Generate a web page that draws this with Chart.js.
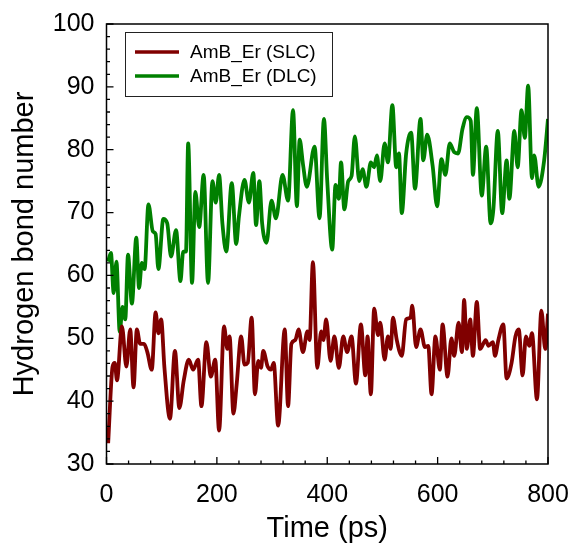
<!DOCTYPE html>
<html>
<head>
<meta charset="utf-8">
<script src="https://cdn.jsdelivr.net/npm/chart.js@4/dist/chart.umd.min.js"></script>
<style>
  html, body { margin: 0; padding: 0; background: #fff; }
  #wrap { width: 569px; height: 548px; }
</style>
</head>
<body>
<div id="wrap"><canvas id="hbondChart" width="569" height="548"></canvas></div>
<script>
// hydrogen bond count over simulation time, two membrane systems
const slcTime = [3, 11, 15, 19, 28, 36, 43, 49, 55, 61, 68, 74, 82, 89, 94, 99, 105, 115, 124, 132,
    140, 149, 157, 166, 172, 181, 189, 197, 204, 213, 219, 223, 230, 236, 244, 250, 256, 263, 269, 275,
    280, 284, 292, 298, 303, 311, 323, 329, 335, 342, 348, 356, 364, 368, 374, 382, 389, 393, 398, 406,
    413, 421, 429, 436, 444, 452, 461, 469, 473, 479, 485, 492, 496, 504, 510, 515, 519, 526, 535, 543,
    551, 554, 561, 569, 577, 583, 589, 596, 604, 609, 618, 625, 630, 638, 644, 648, 653, 659, 664, 671,
    677, 687, 692, 700, 704, 710, 719, 725, 734, 741, 747, 754, 760, 766, 771, 780, 788, 795, 800];
const slcHbonds = [33.3, 45.5, 46.1, 43.3, 51.9, 45.5, 51.4, 42.2, 51.4, 49.1, 49.1, 47.8, 45, 54.1, 50.8, 53, 45.3, 37.2, 48, 38.9,
    43.3, 46.6, 45, 46.6, 39.2, 49.4, 43.9, 46.6, 35.3, 51.9, 48.3, 50.3, 38, 42.8, 50.3, 45.8, 46.1, 53.3, 41.1, 46.4,
    45.3, 48, 45.5, 45, 46.1, 36.1, 51.4, 39.2, 49.1, 49.7, 51.4, 47.8, 51.1, 49.7, 62.1, 45.3, 51.1, 49.7, 53, 46.4,
    50.3, 45.3, 50.3, 47.8, 50.3, 42.8, 52.2, 44.1, 50.3, 41.1, 54.7, 50.5, 52.5, 46.6, 50.3, 48.3, 53.3, 49.7, 47.2, 53,
    53.3, 55.2, 48.6, 51.4, 48.6, 48.8, 41.1, 50.3, 45, 52.2, 43.9, 50, 47.2, 52.5, 47.8, 56.1, 48.3, 53, 47.2, 55.8,
    48.3, 49.7, 48.8, 49.4, 47.2, 49.7, 52.2, 43.6, 46.1, 50.3, 51.4, 44.1, 50.3, 48.8, 50.8, 40.3, 54.4, 48.3, 53.9];

const dlcTime = [3, 8, 13, 18, 24, 29, 34, 39, 46, 54, 59, 64, 69, 76, 84, 89, 94, 103, 110, 117,
    126, 134, 139, 144, 148, 155, 161, 168, 176, 184, 192, 198, 204, 210, 217, 227, 235, 240, 250, 258,
    266, 271, 277, 282, 290, 299, 307, 319, 329, 338, 345, 350, 356, 363, 377, 386, 394, 400, 409, 415,
    421, 425, 431, 438, 444, 450, 458, 464, 471, 479, 485, 490, 496, 504, 510, 518, 525, 530, 535, 543,
    552, 559, 569, 574, 581, 591, 599, 607, 614, 622, 630, 637, 645, 653, 660, 664, 671, 680, 688, 696,
    701, 709, 717, 725, 730, 739, 745, 752, 758, 764, 771, 775, 783, 793, 800];
const dlcHbonds = [62.2, 63.6, 57.2, 62.2, 51, 55, 53, 63.3, 55.5, 66, 58, 62, 61, 71.3, 67, 66.6, 61, 69, 68.3, 63,
    67.2, 59.1, 63.8, 63.8, 81, 58.8, 73.3, 67.7, 76, 58.8, 75, 71.6, 76, 68.3, 63.8, 74.7, 65, 69.4, 75.2, 71.6,
    76.3, 68, 75, 68.3, 65.2, 71.9, 69.1, 76, 71.9, 86.3, 71, 81.6, 77.7, 74.1, 80.5, 69.1, 84.9, 75, 64.1, 74.4,
    72.2, 78, 70.5, 75, 75.8, 82.1, 75, 76.9, 74.1, 78, 77.2, 79.1, 75, 81, 78, 87.1, 77.2, 79.4, 69.9, 79.4,
    82.7, 73.8, 84.9, 78.3, 82.4, 77.4, 71, 78.5, 76, 81, 79.6, 79.4, 83.3, 85.2, 84.6, 76, 86.6, 72.7, 80.5, 68.3,
    70.5, 83, 69.9, 78.3, 72.2, 83, 77.2, 86.3, 81.9, 90.2, 75.5, 79.1, 74.1, 78.3, 84.9];

const seriesNames = ['AmB_Er (SLC)', 'AmB_Er (DLC)'];
const xTicks = [0, 200, 400, 600, 800];
const yTicks = [30, 40, 50, 60, 70, 80, 90, 100];

const FONT = 'Liberation Sans, Arial, Helvetica, sans-serif';

function pairUp(xs, ys) {
    return xs.map((x, i) => ({ x: x, y: ys[i] }));
}

// box frame, inward tick marks and the framed legend in the upper left
const framePlugin = {
    id: 'frame',
    afterDatasetsDraw(chart) {
        const { ctx, chartArea: a, scales } = chart;
        const xs = scales.x, ys = scales.y;
        ctx.save();
        ctx.strokeStyle = '#000';
        ctx.lineWidth = 1.5;
        ctx.strokeRect(a.left, a.top, a.right - a.left, a.bottom - a.top);

        ctx.lineWidth = 1.3;
        ctx.beginPath();
        for (let v = 0; v <= 800; v += 40) {
            const px = xs.getPixelForValue(v);
            const len = v % 200 === 0 ? 7 : 3.5;
            ctx.moveTo(px, a.bottom);
            ctx.lineTo(px, a.bottom - len);
        }
        for (let v = 30; v <= 100; v += 2) {
            const py = ys.getPixelForValue(v);
            const len = v % 10 === 0 ? 7 : 3.5;
            ctx.moveTo(a.left, py);
            ctx.lineTo(a.left + len, py);
        }
        ctx.stroke();

        // legend
        const bx = 125, by = 32, bw = 207, bh = 64;
        ctx.fillStyle = '#fff';
        ctx.fillRect(bx, by, bw, bh);
        ctx.lineWidth = 1;
        ctx.strokeStyle = '#222';
        ctx.strokeRect(bx + 0.5, by + 0.5, bw, bh);
        chart.data.datasets.forEach((ds, i) => {
            const ry = by + 20 + i * 24;
            ctx.strokeStyle = ds.borderColor;
            ctx.lineWidth = 3.5;
            ctx.beginPath();
            ctx.moveTo(bx + 10, ry);
            ctx.lineTo(bx + 54, ry);
            ctx.stroke();
            ctx.fillStyle = '#000';
            ctx.font = '19px ' + FONT;
            ctx.textBaseline = 'middle';
            ctx.fillText(ds.label, bx + 65, ry + 1);
        });
        ctx.restore();
    }
};

const ctx = document.getElementById('hbondChart').getContext('2d');
new Chart(ctx, {
    type: 'line',
    data: {
        datasets: [{
            label: seriesNames[0],
            data: pairUp(slcTime, slcHbonds),
            borderColor: '#800000',
            borderWidth: 3.8,
            pointRadius: 0,
            cubicInterpolationMode: 'monotone',
            fill: false
        }, {
            label: seriesNames[1],
            data: pairUp(dlcTime, dlcHbonds),
            borderColor: '#008000',
            borderWidth: 3.8,
            pointRadius: 0,
            cubicInterpolationMode: 'monotone',
            fill: false
        }]
    },
    options: {
        responsive: false,
        animation: false,
        devicePixelRatio: 1,
        layout: { padding: { top: 24, right: 21, left: 0, bottom: 0 } },
        plugins: {
            legend: { display: false },
            tooltip: { enabled: false }
        },
        scales: {
            x: {
                type: 'linear',
                min: 0,
                max: 800,
                afterFit: s => { s.height = 84; s.paddingLeft = 0; s.paddingRight = 0; },
                afterBuildTicks: s => { s.ticks = xTicks.map(v => ({ value: v })); },
                grid: { display: false, drawTicks: false },
                border: { display: false },
                ticks: { color: '#000', padding: 16, maxRotation: 0, font: { family: FONT, size: 25 } },
                title: {
                    display: true,
                    text: 'Time (ps)',
                    color: '#000',
                    padding: { top: 0, bottom: 5 },
                    font: { family: FONT, size: 29, lineHeight: 1 }
                }
            },
            y: {
                min: 30,
                max: 100,
                afterFit: s => { s.width = 106.5; s.paddingTop = 0; s.paddingBottom = 0; },
                afterBuildTicks: s => { s.ticks = yTicks.map(v => ({ value: v })); },
                grid: { display: false, drawTicks: false },
                border: { display: false },
                ticks: { color: '#000', padding: 12, font: { family: FONT, size: 25 } },
                title: {
                    display: true,
                    text: 'Hydrogen bond number',
                    color: '#000',
                    padding: { top: 10, bottom: 0 },
                    font: { family: FONT, size: 29, lineHeight: 1 }
                }
            }
        }
    },
    plugins: [framePlugin]
});
</script>
</body>
</html>
